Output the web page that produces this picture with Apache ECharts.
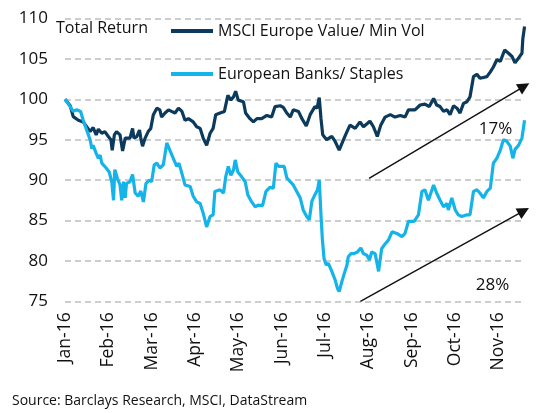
<!DOCTYPE html>
<html>
<head>
<meta charset="utf-8">
<script src="https://cdn.jsdelivr.net/npm/echarts@6/dist/echarts.min.js"></script>
<style>html,body{margin:0;padding:0;background:#fff}#c{width:539px;height:413px}</style>
</head>
<body>
<div id="c"></div>
<script>
var monthLabels = ['Jan-16','Feb-16','Mar-16','Apr-16','May-16','Jun-16','Jul-16','Aug-16','Sep-16','Oct-16','Nov-16'];
var yTicks = [75, 80, 85, 90, 95, 100, 105, 110];
var seriesNames = ['MSCI Europe Value/ Min Vol', 'European Banks/ Staples'];

// x = months since start of Jan-16
var valueMinVolX = [0,0.12,0.19,0.31,0.42,0.50,0.58,0.65,0.72,0.77,0.85,0.92,1.00,1.06,1.09,1.14,1.19,1.27,1.33,1.39,1.50,1.56,1.59,1.66,1.72,1.75,1.79,1.85,1.92,1.98,2.04,2.12,2.19,2.23,2.31,2.39,2.46,2.54,2.62,2.70,2.77,2.85,2.96,3.04,3.12,3.19,3.27,3.35,3.42,3.48,3.58,3.68,3.76,3.83,3.89,3.94,4.00,4.12,4.17,4.27,4.35,4.43,4.54,4.66,4.77,4.85,4.97,5.04,5.12,5.20,5.27,5.39,5.47,5.57,5.66,5.77,5.82,5.87,5.91,5.95,6.04,6.16,6.24,6.33,6.43,6.51,6.58,6.70,6.81,6.89,6.98,7.04,7.12,7.21,7.29,7.39,7.51,7.62,7.74,7.85,7.93,7.97,8.08,8.20,8.31,8.41,8.51,8.58,8.66,8.74,8.82,8.89,8.97,9.05,9.12,9.20,9.28,9.35,9.43,9.51,9.58,9.66,9.74,9.82,9.89,9.97,10.05,10.15,10.24,10.32,10.39,10.47,10.55,10.57,10.61];
var valueMinVol = [100,99.2,97.85,97.4,97.2,96.6,96.0,96.5,95.6,96.3,95.8,96.0,95.4,95.0,93.7,95.6,96.0,95.6,93.6,95.2,95.2,96.4,95.2,95.4,96.2,95.2,94.2,95.2,96.0,96.4,98.1,98.9,98.7,97.8,98.3,98.7,98.5,98.3,98.9,98.5,97.4,97.6,97.2,96.6,96.4,95.2,94.3,95.8,96.4,98.1,98.3,98.5,100.5,99.9,100.3,101.0,99.9,99.7,98.3,97.6,97.2,97.6,97.6,98.0,97.8,99.1,99.2,99.0,98.3,97.8,98.7,98.5,97.6,96.7,98.1,99.1,98.9,100.2,97.6,95.6,95.0,95.4,94.75,93.7,95.0,96.0,96.8,96.4,97.2,96.6,97.0,97.3,96.6,95.4,96.8,97.8,98.1,97.8,98.0,97.8,98.7,98.9,98.7,99.3,99.4,99.1,100.1,99.3,99.1,98.5,98.7,98.1,99.2,98.9,98.3,99.5,99.7,100.3,102.8,103.1,102.6,102.7,102.8,103.4,104.0,104.9,104.7,106.1,105.7,105.3,104.5,105.1,105.7,107.5,109.0];

var banksStaplesX = [0,0.12,0.19,0.27,0.36,0.42,0.50,0.58,0.62,0.65,0.72,0.77,0.81,0.85,0.88,0.95,1.02,1.08,1.12,1.15,1.21,1.27,1.31,1.35,1.39,1.42,1.50,1.56,1.62,1.69,1.75,1.81,1.87,1.95,2.00,2.06,2.12,2.19,2.27,2.35,2.42,2.50,2.58,2.63,2.70,2.77,2.89,2.96,3.04,3.12,3.19,3.27,3.35,3.42,3.46,3.58,3.66,3.71,3.77,3.83,3.89,3.93,3.99,4.08,4.16,4.22,4.31,4.39,4.46,4.56,4.64,4.73,4.81,4.87,4.93,5.00,5.06,5.12,5.20,5.27,5.35,5.43,5.50,5.58,5.64,5.70,5.77,5.83,5.87,5.91,5.94,5.98,6.03,6.08,6.16,6.24,6.29,6.33,6.39,6.44,6.51,6.54,6.60,6.67,6.75,6.83,6.89,6.97,7.03,7.08,7.16,7.24,7.31,7.39,7.47,7.55,7.66,7.78,7.85,7.93,7.97,8.06,8.16,8.24,8.31,8.39,8.51,8.58,8.66,8.74,8.82,8.85,8.93,9.01,9.08,9.16,9.28,9.35,9.43,9.51,9.58,9.66,9.74,9.82,9.89,9.97,10.05,10.12,10.20,10.28,10.34,10.39,10.47,10.55,10.61];
var banksStaples = [100,99.1,98.5,98.7,98.5,97.4,96.2,95.0,93.9,94.3,93.3,92.7,93.1,92.1,92.3,91.5,91.0,89.8,87.5,91.3,90.2,89.4,87.5,89.8,87.8,89.6,89.8,90.7,88.4,88.0,88.65,87.3,89.6,90.0,89.8,91.9,92.1,91.5,91.9,94.6,93.7,92.7,91.7,92.1,90.8,89.4,89.2,88.0,87.3,87.1,85.9,84.2,85.5,85.7,88.6,88.8,88.4,90.4,91.7,90.6,91.25,92.5,91.0,90.4,89.8,88.2,87.3,86.7,86.9,86.85,88.6,89.1,89.0,92.1,91.7,91.7,91.7,90.3,89.8,89.4,88.6,87.8,86.3,85.5,85.1,87.4,88.2,88.8,90.0,85.7,82.8,80.3,79.5,79.7,78.7,77.6,76.6,76.2,77.4,78.3,79.5,80.5,80.9,80.9,81.1,81.6,80.9,80.7,80.1,81.1,80.9,78.7,81.5,82.1,82.6,83.6,83.4,83.0,83.4,84.9,84.9,84.9,85.7,88.6,88.8,87.5,89.4,88.4,87.5,86.7,87.1,86.3,87.8,86.3,85.7,85.5,85.7,85.7,88.6,88.8,88.4,87.8,88.6,89.0,92.1,92.7,93.7,95.0,94.8,94.2,92.7,93.8,94.3,95.2,97.4];

// annotations (data space)
var arrowUpper = [[7.02, 90.22], [10.60, 101.6]];
var arrowLower = [[6.82, 75.0], [10.59, 86.18]];
var annoLabels = [{ text: '17%', at: [9.94, 96.32] }, { text: '28%', at: [9.87, 77.02] }];

function zip(xs, ys) { return xs.map(function (x, i) { return [x, ys[i]]; }); }

var FONT = 'Open Sans';
var TXT = '#111111';
var chart = echarts.init(document.getElementById('c'), null, { renderer: 'canvas' });
chart.setOption({
  animation: false,
  backgroundColor: '#ffffff',
  textStyle: { fontFamily: FONT },
  title: [
    { text: 'Total Return', left: 56, top: 20, padding: 0,
      textStyle: { fontFamily: FONT, fontSize: 16, fontWeight: 'normal', color: TXT } },
    { text: 'Source: Barclays Research, MSCI, DataStream', left: 12, top: 394, padding: 0,
      textStyle: { fontFamily: FONT, fontSize: 14, fontWeight: 'normal', color: TXT } }
  ],
  legend: [
    { data: [seriesNames[0]], left: 171, top: 21, padding: 0, icon: 'rect', itemWidth: 42, itemHeight: 4,
      itemGap: 0, textStyle: { fontFamily: FONT, fontSize: 16, color: TXT, lineHeight: 20 } },
    { data: [seriesNames[1]], left: 171, top: 64, padding: 0, icon: 'rect', itemWidth: 42, itemHeight: 4,
      itemGap: 0, textStyle: { fontFamily: FONT, fontSize: 16, color: TXT, lineHeight: 20 } }
  ],
  grid: { left: 65, right: 14, top: 18.5, bottom: 111.7, containLabel: false },
  xAxis: {
    type: 'value', min: 0, max: 10.62, interval: 1,
    axisLine: { show: false }, axisTick: { show: false }, splitLine: { show: false },
    axisLabel: {
      rotate: 90, margin: 11, fontFamily: FONT, fontSize: 17.5, color: TXT,
      showMaxLabel: false,
      formatter: function (v) { return Number.isInteger(v) && monthLabels[v] ? monthLabels[v] : ''; }
    }
  },
  yAxis: {
    type: 'value', min: yTicks[0], max: yTicks[yTicks.length - 1], interval: 5,
    axisLine: { show: false }, axisTick: { show: false },
    axisLabel: { margin: 17, fontFamily: FONT, fontSize: 17, color: TXT },
    splitLine: { show: true, lineStyle: { color: '#bdbdbd', width: 1.5, type: [6, 4] } }
  },
  series: [
    {
      name: seriesNames[0], type: 'line', data: zip(valueMinVolX, valueMinVol),
      showSymbol: false, symbol: 'none', clip: false,
      lineStyle: { color: '#0c3a5c', width: 3.2 }, itemStyle: { color: '#0c3a5c' },
      markLine: {
        silent: true, symbol: ['none', 'triangle'], symbolSize: 12,
        lineStyle: { color: '#111111', width: 1.4, type: 'solid' },
        itemStyle: { color: '#111111' },
        label: { show: false }, emphasis: { disabled: true },
        data: [
          [{ coord: arrowUpper[0] }, { coord: arrowUpper[1] }],
          [{ coord: arrowLower[0] }, { coord: arrowLower[1] }]
        ]
      },
      markPoint: {
        silent: true, symbol: 'circle', symbolSize: 0,
        label: { show: true, position: 'inside', fontFamily: FONT, fontSize: 17, color: TXT,
          formatter: function (p) { return p.name; } },
        data: annoLabels.map(function (a) { return { name: a.text, coord: a.at }; })
      }
    },
    {
      name: seriesNames[1], type: 'line', data: zip(banksStaplesX, banksStaples),
      showSymbol: false, symbol: 'none', clip: false,
      lineStyle: { color: '#14b4ea', width: 3.2 }, itemStyle: { color: '#14b4ea' }
    }
  ]
});
</script>
</body>
</html>
